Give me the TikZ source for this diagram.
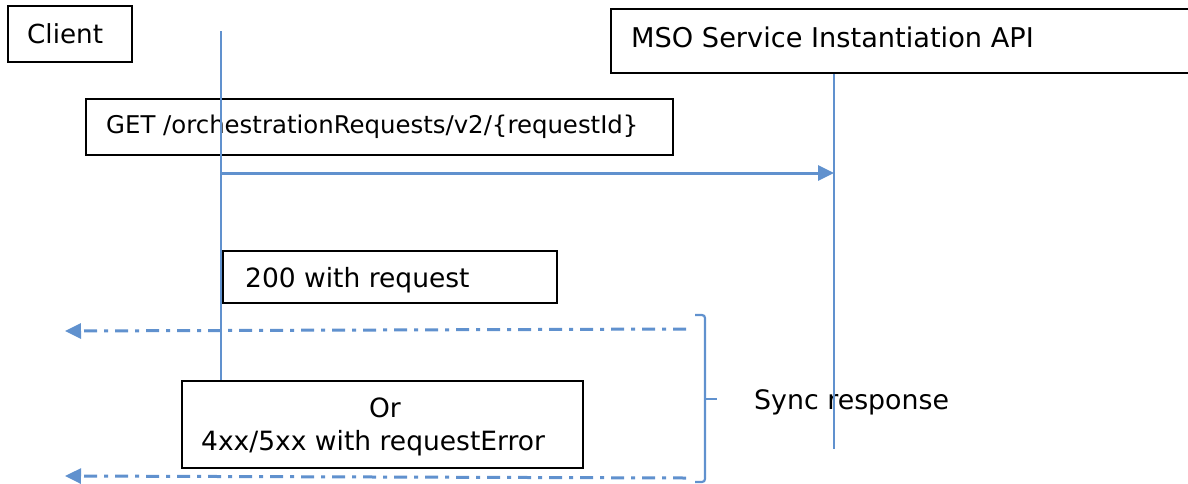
\documentclass[tikz,border=0pt]{standalone}
\usepackage{fontspec}
\setmainfont{DejaVu Sans}
\usetikzlibrary{arrows.meta}
\definecolor{lblue}{RGB}{96,145,206}
\tikzset{
  box/.style={draw=black, line width=2pt, inner sep=0pt, anchor=north west},
  lifeline/.style={draw=lblue, line width=2.2pt},
  msg/.style={draw=lblue, line width=3pt, -{Triangle[length=16pt,width=15pt]}},
  reply/.style={draw=lblue, line width=3pt, dash pattern=on 13pt off 7pt on 4pt off 7pt, -{Triangle[length=16pt,width=15pt]}},
  brace/.style={draw=lblue, line width=2.2pt, rounded corners=3pt},
  lbl/.style={inner sep=0pt, anchor=base west, font=\fontsize{24.4}{28}\selectfont},
  midlbl/.style={inner sep=0pt, anchor=base west, font=\fontsize{26.5}{30}\selectfont},
  biglbl/.style={inner sep=0pt, anchor=base west, font=\fontsize{26.2}{30}\selectfont}
}
\begin{document}
\begin{tikzpicture}[x=1pt,y=-1pt]
\useasboundingbox (0,0) rectangle (1188,483);
% boxes
\node[box, minimum width=124pt, minimum height=56pt] (client) at (7,5) {};
\node[box, minimum width=600pt, minimum height=64pt] (mso) at (610,8) {};
\node[box, minimum width=587pt, minimum height=56pt] (get) at (85,98) {};
\node[box, minimum width=334pt, minimum height=52pt] (ok) at (222,250) {};
\node[box, minimum width=401pt, minimum height=87pt] (err) at (181,380) {};
% labels
\node[biglbl] (clientT) at (27,43) {Client};
\node[biglbl, font=\fontsize{27.2}{30}\selectfont] (msoT) at (631,47) {MSO Service Instantiation API};
\node[lbl] (getT) at (106,133) {GET /orchestrationRequests/v2/\{requestId\}};
\node[midlbl] (okT) at (245,287) {200 with request};
\node[midlbl, anchor=base] (orT) at (385,417) {Or};
\node[midlbl] (errT) at (201,450) {4xx/5xx with requestError};
% lifelines
\coordinate (clTop) at (221,31);
\coordinate (msoBot) at (834,449);
\draw[lifeline] (clTop) -- (err.north -| clTop);
\draw[lifeline] (mso.south -| msoBot) -- (msoBot);
% messages
\coordinate (r1s) at (686,329);
\coordinate (r1e) at (65,331);
\coordinate (r2s) at (686,478);
\coordinate (r2e) at (65,476);
\draw[msg] (clTop |- 0,173) -- (msoBot |- 0,173);
\draw[reply] (r1s) -- (r1e);
\draw[reply] (r2s) -- (r2e);
% brace
\coordinate (bTop) at (695,315);
\coordinate (bBot) at (695,482);
\draw[brace] (bTop) -- (705,315) -- (705,482) -- (bBot);
\coordinate (bTip) at (717,399);
\draw[lblue, line width=2.2pt] (705,399) -- (bTip);
\node[biglbl, font=\fontsize{26.8}{30}\selectfont] (sync) at (754,409) {Sync response};
\draw[lifeline] (mso.south -| msoBot) -- (msoBot);
\end{tikzpicture}
\end{document}
